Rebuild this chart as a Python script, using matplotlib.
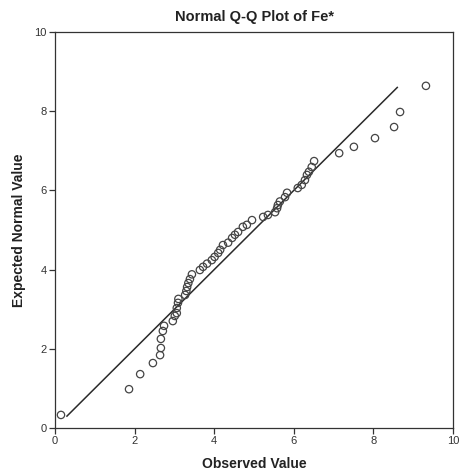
import matplotlib
matplotlib.use("Agg")
import matplotlib.pyplot as plt

plt.rcParams['font.family'] = ['Liberation Sans', 'DejaVu Sans']

title = "Normal Q-Q Plot of Fe*"
xlabel = "Observed Value"
ylabel = "Expected Normal Value"
ticks = [0, 2, 4, 6, 8, 10]

observed = [0.15, 1.86, 2.14, 2.46, 2.64, 2.66, 2.66, 2.71, 2.74, 2.96, 3.01, 3.06, 3.06, 3.09, 3.10,
            3.27, 3.30, 3.32, 3.35, 3.39, 3.44,
            3.64, 3.72, 3.82, 3.94, 4.01, 4.10, 4.15, 4.22, 4.35, 4.45, 4.52, 4.60, 4.72, 4.82, 4.95,
            5.23, 5.35, 5.53, 5.58, 5.60, 5.65, 5.78, 5.83,
            6.10, 6.20, 6.28, 6.33, 6.38, 6.45, 6.51,
            7.14, 7.51, 8.04, 8.52, 8.67, 9.32]
expected = [0.33, 0.98, 1.36, 1.64, 1.84, 2.02, 2.25, 2.45, 2.58, 2.70, 2.83, 2.90, 3.03, 3.16, 3.26,
            3.36, 3.46, 3.56, 3.66, 3.76, 3.88,
            3.99, 4.07, 4.15, 4.24, 4.32, 4.42, 4.50, 4.62, 4.68, 4.80, 4.88, 4.95, 5.08, 5.13, 5.25,
            5.33, 5.38, 5.45, 5.55, 5.63, 5.72, 5.83, 5.94,
            6.06, 6.14, 6.26, 6.39, 6.47, 6.59, 6.74,
            6.94, 7.10, 7.32, 7.60, 7.98, 8.64]
ref_line = [0.3, 8.6]

fig = plt.figure(figsize=(4.65, 4.73), dpi=100)
ax = fig.add_axes([55/465, 1-428/473, (453-55)/465, (428-32)/473])

ax.plot(ref_line, ref_line, color='#2a2a2a', lw=1.1, zorder=2)
ax.scatter(observed, expected, s=28, facecolors='none', edgecolors='#444444', linewidths=0.9, zorder=3)

ax.set_xlim(0, 10)
ax.set_ylim(0, 10)
ax.set_xticks(ticks)
ax.set_yticks(ticks)
ax.tick_params(direction='out', length=4, width=0.9, colors='#333333', labelsize=8, pad=2)
for s in ax.spines.values():
    s.set_color('#333333')
    s.set_linewidth(0.9)

ax.set_xlabel(xlabel, fontsize=10, fontweight='bold', color='#222222', labelpad=8)
ax.set_ylabel(ylabel, fontsize=10, fontweight='bold', color='#222222', labelpad=6)
fig.text(0.5 * (55 + 453) / 465, 1 - 17/473, title, ha='center', va='center',
         fontsize=10.5, fontweight='bold', color='#222222')

fig.savefig("out.png", dpi=100)
